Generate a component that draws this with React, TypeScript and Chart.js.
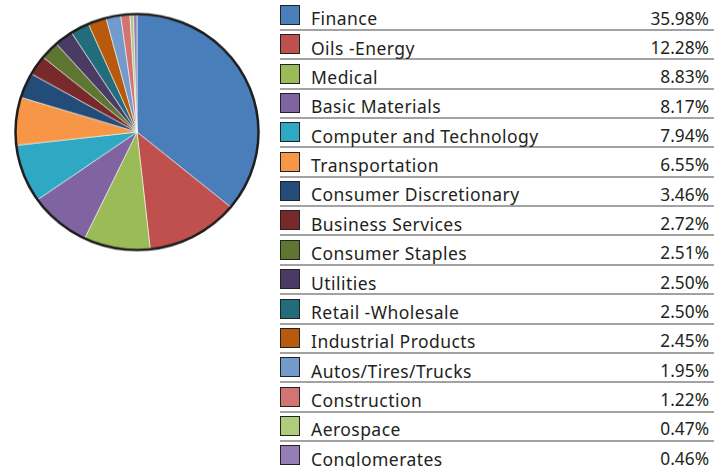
import React, { useEffect, useRef } from "react";
import { Chart, registerables } from "chart.js";

Chart.register(...registerables);

const categories = [
  "Finance",
  "Oils -Energy",
  "Medical",
  "Basic Materials",
  "Computer and Technology",
  "Transportation",
  "Consumer Discretionary",
  "Business Services",
  "Consumer Staples",
  "Utilities",
  "Retail -Wholesale",
  "Industrial Products",
  "Autos/Tires/Trucks",
  "Construction",
  "Aerospace",
  "Conglomerates",
];

const weights = [35.98, 12.28, 8.83, 8.17, 7.94, 6.55, 3.46, 2.72, 2.51, 2.5, 2.5, 2.45, 1.95, 1.22, 0.47, 0.46];

const valueLabels = [
  "35.98%", "12.28%", "8.83%", "8.17%", "7.94%", "6.55%", "3.46%", "2.72%",
  "2.51%", "2.50%", "2.50%", "2.45%", "1.95%", "1.22%", "0.47%", "0.46%",
];

const colors = [
  "#4a7ebb", "#c0504d", "#9bbb59", "#8064a2", "#2fa8c4", "#f79646",
  "#234d78", "#782a2a", "#5e7631", "#4b3a63", "#236c7c", "#b85a0e",
  "#729acb", "#d27471", "#afcb7c", "#937fb6",
];

const outlinePlugin = {
  id: "outline",
  afterDatasetsDraw(chart: any) {
    const meta = chart.getDatasetMeta(0);
    const arc = meta.data[0];
    if (!arc) return;
    const { x, y, outerRadius } = arc.getProps(["x", "y", "outerRadius"], true);
    const ctx = chart.ctx;
    ctx.save();
    ctx.beginPath();
    ctx.arc(x, y, outerRadius, 0, Math.PI * 2);
    ctx.lineWidth = 2.5;
    ctx.strokeStyle = "#1e1e1e";
    ctx.stroke();
    ctx.restore();
  },
};

function PieChart() {
  const ref = useRef<HTMLCanvasElement>(null);
  useEffect(() => {
    if (!ref.current) return;
    const chart = new Chart(ref.current, {
      type: "pie",
      data: {
        labels: categories,
        datasets: [
          {
            data: weights,
            backgroundColor: colors,
            borderColor: "rgba(255,255,255,0.55)",
            borderWidth: 1,
          },
        ],
      },
      options: {
        animation: false,
        responsive: false,
        layout: { padding: 3 },
        plugins: { legend: { display: false }, tooltip: { enabled: false } },
      },
      plugins: [outlinePlugin],
    });
    return () => chart.destroy();
  }, []);
  return (
    <canvas
      ref={ref}
      width={250}
      height={250}
      style={{
        position: "absolute",
        left: 12,
        top: 7,
        width: 250,
        height: 250,
        transform: "scaleY(0.971)",
        transformOrigin: "50% 50%",
      }}
    />
  );
}

const ROW_H = 29.35;

export default function App() {
  useEffect(() => {
    document.body.style.margin = "0";
  }, []);
  return (
    <div
      style={{
        position: "fixed",
        left: 0,
        top: 0,
        width: 714,
        height: 467,
        overflow: "hidden",
        background: "#fff",
        fontFamily: "'Noto Sans', sans-serif",
        color: "#231f20",
      }}
    >
      <PieChart />
      {categories.map((c, i) => (
        <div
          key={c}
          style={{
            position: "absolute",
            left: 280,
            top: ROW_H * i,
            width: 434,
            height: ROW_H,
          }}
        >
          <div
            style={{
              position: "absolute",
              left: 0,
              right: 0,
              top: 29,
              height: 2,
              background: "#a2a2a2",
            }}
          />
          <div
            style={{
              position: "absolute",
              left: 0,
              top: 5,
              width: 18,
              height: 18,
              background: colors[i],
              border: "1px solid #222",
            }}
          />
          <div
            style={{
              position: "absolute",
              left: 31,
              top: 8.4,
              fontSize: 17.5,
              letterSpacing: "0.45px",
              lineHeight: "20px",
              whiteSpace: "nowrap",
            }}
          >
            {c}
          </div>
          <div
            style={{
              position: "absolute",
              right: 5,
              top: 8.6,
              fontSize: 17.3,
              lineHeight: "20px",
              whiteSpace: "nowrap",
            }}
          >
            {valueLabels[i]}
          </div>
        </div>
      ))}
    </div>
  );
}
